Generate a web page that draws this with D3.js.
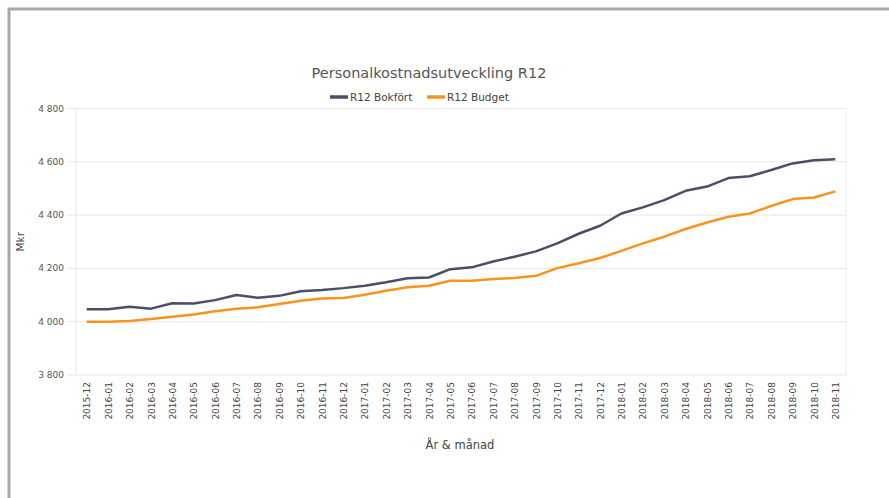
<!DOCTYPE html>
<html><head><meta charset="utf-8">
<script src="https://cdn.jsdelivr.net/npm/d3@7"></script>
<style>body{margin:0;background:#fff;} svg{display:block;font-family:"DejaVu Sans",sans-serif;}</style>
</head><body>
<svg id="c" width="889" height="498"></svg>
<script>
const categories = ["2015-12","2016-01","2016-02","2016-03","2016-04","2016-05","2016-06","2016-07","2016-08","2016-09","2016-10","2016-11","2016-12","2017-01","2017-02","2017-03","2017-04","2017-05","2017-06","2017-07","2017-08","2017-09","2017-10","2017-11","2017-12","2018-01","2018-02","2018-03","2018-04","2018-05","2018-06","2018-07","2018-08","2018-09","2018-10","2018-11"];
const bokfort = [4047,4047,4056,4049,4069,4068,4081,4100,4090,4097,4114,4119,4126,4135,4148,4163,4166,4197,4204,4226,4244,4264,4294,4330,4360,4406,4429,4456,4491,4507,4539,4546,4569,4594,4606,4610];
const budget  = [4000,4000,4003,4010,4019,4027,4039,4049,4054,4066,4079,4087,4089,4101,4116,4129,4135,4154,4154,4160,4164,4172,4201,4219,4239,4266,4294,4319,4348,4372,4394,4406,4434,4460,4466,4489];
const yTicks = [3800,4000,4200,4400,4600,4800];
const seriesNames = ["R12 Bokfört","R12 Budget"];
const colors = ["#4a4f68","#f7931e"];

const svg = d3.select("#c");
// outer frame
svg.append("path").attr("d","M9,500 L9,9 L895,9").attr("fill","none").attr("stroke","#a8a8a8").attr("stroke-width",3);

const L=76,R=846,T=108.5,B=375;
const x = d3.scalePoint().domain(categories).range([L,R]).padding(0.5);
const y = d3.scaleLinear().domain([3800,4800]).range([B,T]);

// grid
svg.append("g").selectAll("line").data(yTicks).join("line")
  .attr("x1",L-8).attr("x2",R).attr("y1",d=>y(d)).attr("y2",d=>y(d))
  .attr("stroke","#e6e6e6").attr("stroke-width",1);
svg.append("line").attr("x1",L).attr("x2",L).attr("y1",T).attr("y2",B).attr("stroke","#e6e6e6");
svg.append("line").attr("x1",R).attr("x2",R).attr("y1",T).attr("y2",B).attr("stroke","#eeeeee");

// y axis labels
const fmt = v => d3.format(",")(v).replace(",", " ");
svg.append("g").selectAll("text").data(yTicks).join("text")
  .attr("x",L-12).attr("y",d=>y(d)+3).attr("text-anchor","end")
  .attr("font-size",9).attr("fill","#555").text(fmt);

// x axis labels
const xa = svg.append("g").attr("transform",`translate(0,${B})`)
  .call(d3.axisBottom(x).tickSize(0).tickPadding(0));
xa.select(".domain").remove();
xa.selectAll("text").attr("transform","rotate(-90)").attr("text-anchor","end")
  .attr("x",-7).attr("y",0).attr("dy","0.35em").attr("font-size",9).attr("fill","#444")
  .attr("font-family","DejaVu Sans");

// lines
const line = d3.line().x((d,i)=>x(categories[i])).y(d=>y(d));
[bokfort,budget].forEach((s,k)=>{
  svg.append("path").datum(s).attr("d",line).attr("fill","none")
    .attr("stroke",colors[k]).attr("stroke-width",2.5).attr("stroke-linejoin","round");
});

// titles
svg.append("text").attr("x",429).attr("y",78).attr("text-anchor","middle")
  .attr("font-size",14.5).attr("fill","#555").text("Personalkostnadsutveckling R12");
svg.append("text").attr("transform",`translate(24,${(T+B)/2}) rotate(-90)`).attr("text-anchor","middle")
  .attr("font-size",10.5).attr("fill","#444").text("Mkr");
svg.append("text").attr("x",460).attr("y",449).attr("text-anchor","middle")
  .attr("font-size",11.5).attr("fill","#444").text("År & månad");

// legend
const lg = svg.append("g");
const lx=[330,427];
seriesNames.forEach((n,k)=>{
  lg.append("line").attr("x1",lx[k]).attr("x2",lx[k]+18).attr("y1",97).attr("y2",97)
    .attr("stroke",colors[k]).attr("stroke-width",3.5);
  lg.append("text").attr("x",lx[k]+20).attr("y",100.5).attr("font-size",10.5).attr("fill","#444").text(n);
});
</script>
</body></html>
